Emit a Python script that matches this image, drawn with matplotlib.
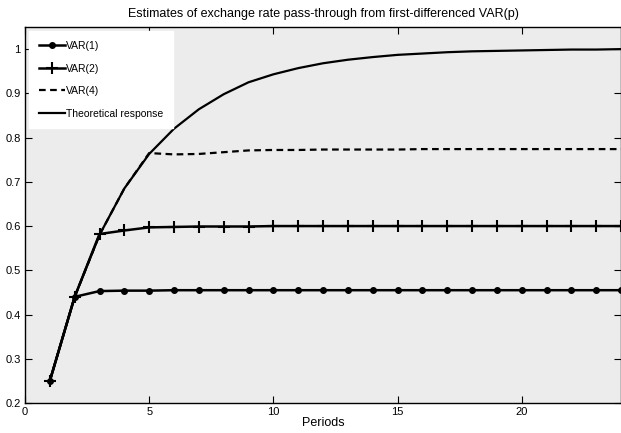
import matplotlib
matplotlib.use("Agg")
import matplotlib.pyplot as plt

periods = list(range(1, 25))
var1 = [0.25, 0.44, 0.453, 0.454, 0.454, 0.455, 0.455, 0.455, 0.455, 0.455, 0.455, 0.455,
        0.455, 0.455, 0.455, 0.455, 0.455, 0.455, 0.455, 0.455, 0.455, 0.455, 0.455, 0.455]
var2 = [0.25, 0.44, 0.582, 0.59, 0.597, 0.598, 0.599, 0.599, 0.599, 0.6, 0.6, 0.6,
        0.6, 0.6, 0.6, 0.6, 0.6, 0.6, 0.6, 0.6, 0.6, 0.6, 0.6, 0.6]
var4 = [0.25, 0.44, 0.58, 0.685, 0.765, 0.762, 0.763, 0.767, 0.771, 0.772, 0.772, 0.773,
        0.773, 0.773, 0.773, 0.774, 0.774, 0.774, 0.774, 0.774, 0.774, 0.774, 0.774, 0.774]
theory = [0.25, 0.44, 0.58, 0.685, 0.763, 0.82, 0.864, 0.898, 0.925, 0.943, 0.957, 0.968,
          0.976, 0.982, 0.987, 0.99, 0.993, 0.995, 0.996, 0.997, 0.998, 0.999, 0.999, 1.0]

plt.rcParams['font.family'] = ['Liberation Sans', 'DejaVu Sans']
fig = plt.figure(figsize=(6.21, 4.33), dpi=100)
ax = fig.add_axes([25/621, 1 - 403/433, 596/621, (403-27)/433])
ax.set_facecolor('#ececec')

ax.plot(periods, var1, color='black', lw=1.8, marker='o', ms=4, label='VAR(1)')
ax.plot(periods, var2, color='black', lw=1.8, marker='+', ms=8, mew=1.5, label='VAR(2)')
ax.plot(periods, var4, color='black', lw=1.6, ls='--', dashes=(3, 2), label='VAR(4)')
ax.plot(periods, theory, color='black', lw=1.6, label='Theoretical response')

ax.set_xlim(0, 24)
ax.set_ylim(0.2, 1.05)
ax.set_xticks([0, 5, 10, 15, 20])
ax.set_yticks([0.2, 0.3, 0.4, 0.5, 0.6, 0.7, 0.8, 0.9, 1.0])
ax.set_yticklabels(['0.2', '0.3', '0.4', '0.5', '0.6', '0.7', '0.8', '0.9', '1'])
ax.tick_params(direction='in', top=True, right=True, labelsize=8, length=5, pad=3)
for s in ax.spines.values():
    s.set_linewidth(1.0)
ax.set_xlabel('Periods', fontsize=9, labelpad=0)
ax.set_title('Estimates of exchange rate pass-through from first-differenced VAR(p)', fontsize=9, pad=7)

leg = ax.legend(loc='upper left', fontsize=7.5, frameon=True, fancybox=False,
                handlelength=2.5, handletextpad=0.1, borderaxespad=0.4, labelspacing=1.2,
                borderpad=0.95)
leg.get_frame().set_facecolor('white')
leg.get_frame().set_edgecolor('white')
leg.get_frame().set_alpha(1)

fig.savefig('out.png', dpi=100)
